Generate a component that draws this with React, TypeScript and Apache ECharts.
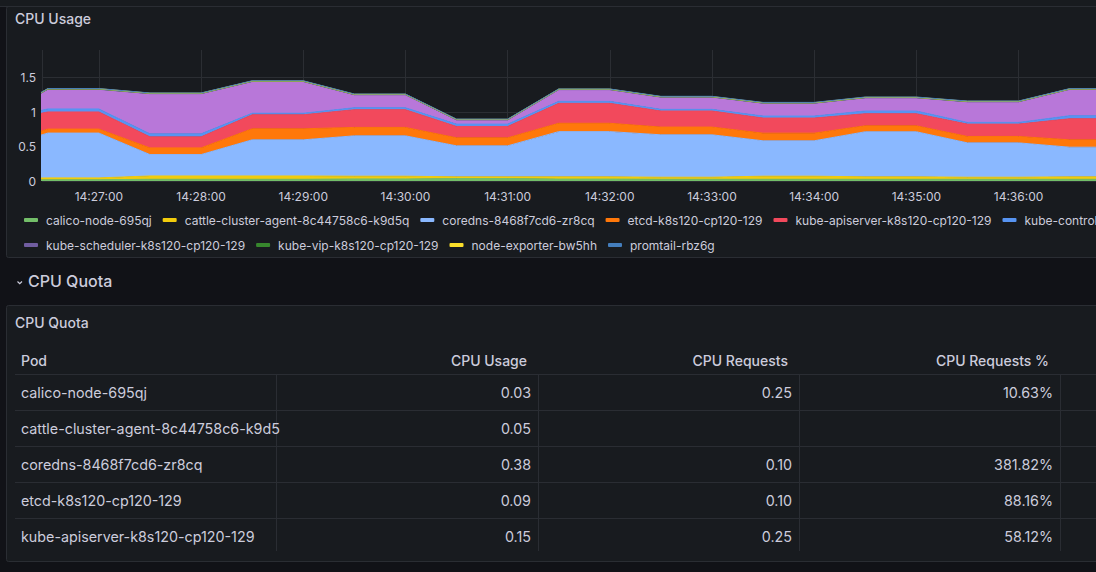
import React, { useEffect, useRef } from "react";
import * as echarts from "echarts";

// ---------- chart data ----------
const sampleTimes = [
  "14:26:00", "14:26:30", "14:27:00", "14:27:30", "14:28:00", "14:28:30",
  "14:29:00", "14:29:30", "14:30:00", "14:30:30", "14:31:00", "14:31:30",
  "14:32:00", "14:32:30", "14:33:00", "14:33:30", "14:34:00", "14:34:30",
  "14:35:00", "14:35:30", "14:36:00", "14:36:30", "14:37:00",
];
const axisStart = "14:26:26.6";
const axisEnd = "14:36:59";

const calicoNode = [0.01, 0.018, 0.018, 0.025, 0.025, 0.025, 0.025, 0.03, 0.03, 0.035, 0.035, 0.028, 0.028, 0.025, 0.025, 0.025, 0.025, 0.025, 0.025, 0.025, 0.025, 0.025, 0.025];
const cattleAgent = [0.02, 0.027, 0.027, 0.048, 0.048, 0.048, 0.048, 0.04, 0.04, 0.025, 0.025, 0.032, 0.032, 0.03, 0.03, 0.045, 0.045, 0.035, 0.035, 0.03, 0.03, 0.035, 0.035];
const coredns = [0.44, 0.65, 0.65, 0.31, 0.31, 0.524, 0.524, 0.585, 0.585, 0.45, 0.45, 0.656, 0.656, 0.615, 0.615, 0.513, 0.513, 0.654, 0.654, 0.498, 0.498, 0.43, 0.43];
const etcd = [0.05, 0.058, 0.058, 0.097, 0.097, 0.16, 0.16, 0.122, 0.122, 0.116, 0.116, 0.121, 0.121, 0.112, 0.112, 0.111, 0.111, 0.086, 0.086, 0.093, 0.093, 0.107, 0.107];
const kubeApiserver = [0.33, 0.248, 0.248, 0.16, 0.16, 0.204, 0.204, 0.257, 0.257, 0.165, 0.165, 0.289, 0.289, 0.233, 0.233, 0.219, 0.219, 0.176, 0.176, 0.179, 0.179, 0.306, 0.306];
const kubeController = [0.03, 0.044, 0.044, 0.044, 0.044, 0.022, 0.022, 0.029, 0.029, 0.034, 0.034, 0.029, 0.029, 0.024, 0.024, 0.029, 0.029, 0.039, 0.039, 0.025, 0.025, 0.044, 0.044];
// seventh series: its legend entry lies outside the visible part of the panel
const offscreenPod = [0.02, 0.281, 0.281, 0.578, 0.578, 0.456, 0.456, 0.184, 0.184, 0.058, 0.058, 0.165, 0.165, 0.174, 0.174, 0.183, 0.183, 0.188, 0.188, 0.295, 0.295, 0.378, 0.378];
const kubeScheduler = [0.004, 0.004, 0.004, 0.005, 0.005, 0.004, 0.004, 0.004, 0.004, 0.004, 0.004, 0.005, 0.005, 0.004, 0.004, 0.004, 0.004, 0.004, 0.004, 0.004, 0.004, 0.005, 0.005];
const kubeVip = [0.003, 0.003, 0.003, 0.003, 0.003, 0.003, 0.003, 0.003, 0.003, 0.003, 0.003, 0.004, 0.004, 0.003, 0.003, 0.003, 0.003, 0.003, 0.003, 0.003, 0.003, 0.003, 0.003];
const nodeExporter = [0.004, 0.005, 0.005, 0.004, 0.004, 0.004, 0.004, 0.004, 0.004, 0.004, 0.004, 0.003, 0.003, 0.004, 0.004, 0.004, 0.004, 0.004, 0.004, 0.004, 0.004, 0.003, 0.003];
const promtail = [0.004, 0.003, 0.003, 0.003, 0.003, 0.004, 0.004, 0.004, 0.004, 0.004, 0.004, 0.003, 0.003, 0.004, 0.004, 0.004, 0.004, 0.004, 0.004, 0.004, 0.004, 0.004, 0.004];

const seriesNames = [
  "calico-node-695qj",
  "cattle-cluster-agent-8c44758c6-k9d5q",
  "coredns-8468f7cd6-zr8cq",
  "etcd-k8s120-cp120-129",
  "kube-apiserver-k8s120-cp120-129",
  "kube-controller-manager-k8s120-cp120-129",
  "pod-7",
  "kube-scheduler-k8s120-cp120-129",
  "kube-vip-k8s120-cp120-129",
  "node-exporter-bw5hh",
  "promtail-rbz6g",
];
const seriesValues = [calicoNode, cattleAgent, coredns, etcd, kubeApiserver, kubeController, offscreenPod, kubeScheduler, kubeVip, nodeExporter, promtail];
const seriesColors = ["#73BF69", "#F2CC0C", "#8AB8FF", "#FF780A", "#F2495C", "#5794F2", "#B877D9", "#705DA0", "#37872D", "#FADE2A", "#447EBC"];
const legendNames = seriesNames.filter((n) => n !== "pod-7");

const yTicks = [0, 0.5, 1, 1.5];

// ---------- table data ----------
const tableHeaders = ["Pod", "CPU Usage", "CPU Requests", "CPU Requests %"];
const tablePods = [
  "calico-node-695qj",
  "cattle-cluster-agent-8c44758c6-k9d5q",
  "coredns-8468f7cd6-zr8cq",
  "etcd-k8s120-cp120-129",
  "kube-apiserver-k8s120-cp120-129",
];
const tableUsage = ["0.03", "0.05", "0.38", "0.09", "0.15"];
const tableRequests = ["0.25", "", "0.10", "0.10", "0.25"];
const tableRequestsPct = ["10.63%", "", "381.82%", "88.16%", "58.12%"];

// ---------- helpers ----------
const toTs = (s: string) => {
  const [h, m, sec] = s.split(":");
  const secs = parseFloat(sec);
  return new Date(2024, 0, 15, parseInt(h), parseInt(m), Math.floor(secs), Math.round((secs % 1) * 1000)).getTime();
};
const pad = (n: number) => (n < 10 ? "0" + n : "" + n);

const PAGE_BG = "#111217";
const PANEL_BG = "#181b1f";
const BORDER = "#2a2d33";
const GRID = "#2b2e33";
const TEXT = "#ccccdc";
const FONT = "Inter";
const TABLE_FONT = 14.3;

export default function App() {
  const ref = useRef<HTMLDivElement>(null);

  useEffect(() => {
    document.body.style.margin = "0";
    document.body.style.background = PAGE_BG;
    const chart = echarts.init(ref.current!, null, { renderer: "svg" });

    const times = sampleTimes.map(toTs);

    const series = seriesNames.map((name, i) => ({
      name,
      type: "line",
      stack: "total",
      color: seriesColors[i],
      data: times.map((t, k) => [t, seriesValues[i][k]]),
      showSymbol: false,
      symbol: "none",
      clip: true,
      silent: true,
      lineStyle: { width: 1, color: seriesColors[i] },
      areaStyle: { color: seriesColors[i], opacity: 1 },
      emphasis: { disabled: true },
    }));

    // table graphics
    const colRights = [276, 538, 799, 1060];
    const headerY = 360;
    const rowY0 = 392;
    const rowH = 36;
    const tableGraphics: any[] = [];
    tableHeaders.forEach((h, c) => {
      tableGraphics.push({
        type: "text",
        z: 10,
        x: c === 0 ? 21 : colRights[c] - 11,
        y: headerY,
        style: {
          text: h,
          fill: TEXT,
          font: `500 14px ${FONT}`,
          textAlign: c === 0 ? "left" : "right",
          textVerticalAlign: "middle",
        },
      });
    });
    tableGraphics.push({
      type: "line", z: 5,
      shape: { x1: 15, y1: 374.5, x2: 1500, y2: 374.5 },
      style: { stroke: BORDER, lineWidth: 1 },
    });
    for (let r = 1; r < tablePods.length; r++) {
      const y = 374.5 + r * rowH;
      tableGraphics.push({
        type: "line", z: 5,
        shape: { x1: 15, y1: y, x2: 1500, y2: y },
        style: { stroke: BORDER, lineWidth: 1 },
      });
    }
    colRights.forEach((x) => {
      tableGraphics.push({
        type: "line", z: 5,
        shape: { x1: x + 0.5, y1: 375, x2: x + 0.5, y2: 375 + tablePods.length * rowH - 4 },
        style: { stroke: BORDER, lineWidth: 1 },
      });
    });
    const cols = [tablePods, tableUsage, tableRequests, tableRequestsPct];
    tablePods.forEach((_, r) => {
      const y = rowY0 + r * rowH;
      cols.forEach((col, c) => {
        const txt = col[r];
        if (!txt) return;
        if (c === 0) {
          tableGraphics.push({
            type: "text", z: 10, x: 21, y,
            style: {
              text: txt, fill: TEXT, font: `400 ${TABLE_FONT}px ${FONT}`,
              textAlign: "left", textVerticalAlign: "middle",
              width: 262, overflow: "truncate", ellipsis: "",
            },
          });
        } else {
          tableGraphics.push({
            type: "text", z: 10, x: colRights[c] - 7, y,
            style: {
              text: txt, fill: TEXT, font: `400 ${TABLE_FONT}px ${FONT}`,
              textAlign: "right", textVerticalAlign: "middle",
            },
          });
        }
      });
    });

    const option: any = {
      animation: false,
      backgroundColor: PAGE_BG,
      textStyle: { fontFamily: FONT },
      graphic: {
        elements: [
          { type: "rect", z: -20, shape: { x: 0, y: 0, width: 1500, height: 6 }, style: { fill: PANEL_BG } },
          { type: "line", z: -19, shape: { x1: 0, y1: 6.5, x2: 1500, y2: 6.5 }, style: { stroke: BORDER, lineWidth: 1 } },
          { type: "rect", z: -20, shape: { x: 6.5, y: 6.5, width: 1600, height: 251, r: 2 }, style: { fill: PANEL_BG, stroke: BORDER, lineWidth: 1 } },
          { type: "text", z: 10, x: 15, y: 18, style: { text: "CPU Usage", fill: TEXT, font: `500 14px ${FONT}`, textVerticalAlign: "middle" } },
          { type: "polyline", z: 10, shape: { points: [[17.5, 281.5], [19.75, 283.75], [22, 281.5]] }, style: { stroke: TEXT, lineWidth: 1.2, fill: null } },
          { type: "text", z: 10, x: 28, y: 281, style: { text: "CPU Quota", fill: TEXT, font: `500 16px ${FONT}`, textVerticalAlign: "middle" } },
          { type: "rect", z: -20, shape: { x: 6.5, y: 305.5, width: 1600, height: 256, r: 2 }, style: { fill: PANEL_BG, stroke: BORDER, lineWidth: 1 } },
          { type: "text", z: 10, x: 15, y: 322, style: { text: "CPU Quota", fill: TEXT, font: `500 14px ${FONT}`, textVerticalAlign: "middle" } },
          ...tableGraphics,
        ],
      },
      grid: { left: 42, top: 50, width: 1077, height: 131, containLabel: false },
      legend: {
        data: legendNames,
        left: 19,
        top: 208,
        width: 1350,
        orient: "horizontal",
        icon: "roundRect",
        itemWidth: 14,
        itemHeight: 4,
        itemGap: 11,
        selectedMode: false,
        textStyle: { color: TEXT, fontSize: 12, fontFamily: FONT, padding: [0, 0, 0, 3], lineHeight: 14 },
      },
      xAxis: {
        type: "time",
        min: toTs(axisStart),
        max: toTs(axisEnd),
        minInterval: 60000,
        maxInterval: 60000,
        axisLine: { show: false },
        axisTick: { show: false },
        splitLine: { show: true, lineStyle: { color: GRID, width: 1 } },
        axisLabel: {
          color: TEXT,
          fontSize: 12,
          fontFamily: FONT,
          margin: 9,
          hideOverlap: false,
          formatter: (v: number) => {
            const d = new Date(v);
            return pad(d.getHours()) + ":" + pad(d.getMinutes()) + ":" + pad(d.getSeconds());
          },
        },
      },
      yAxis: {
        type: "value",
        min: yTicks[0],
        max: 1.9,
        interval: yTicks[1] - yTicks[0],
        axisLine: { show: false },
        axisTick: { show: false },
        splitLine: { show: true, showMaxLine: false, lineStyle: { color: GRID, width: 1 } },
        axisLabel: {
          color: TEXT,
          fontSize: 12,
          fontFamily: FONT,
          margin: 6,
          showMaxLabel: false,
          formatter: (v: number) => (yTicks.includes(v) ? String(v) : ""),
        },
      },
      series,
    };

    chart.setOption(option);
    return () => chart.dispose();
  }, []);

  return (
    <div style={{ position: "absolute", left: 0, top: 0, width: 1096, height: 572, overflow: "hidden", background: PAGE_BG }}>
      <div ref={ref} style={{ width: 1500, height: 572 }} />
    </div>
  );
}
